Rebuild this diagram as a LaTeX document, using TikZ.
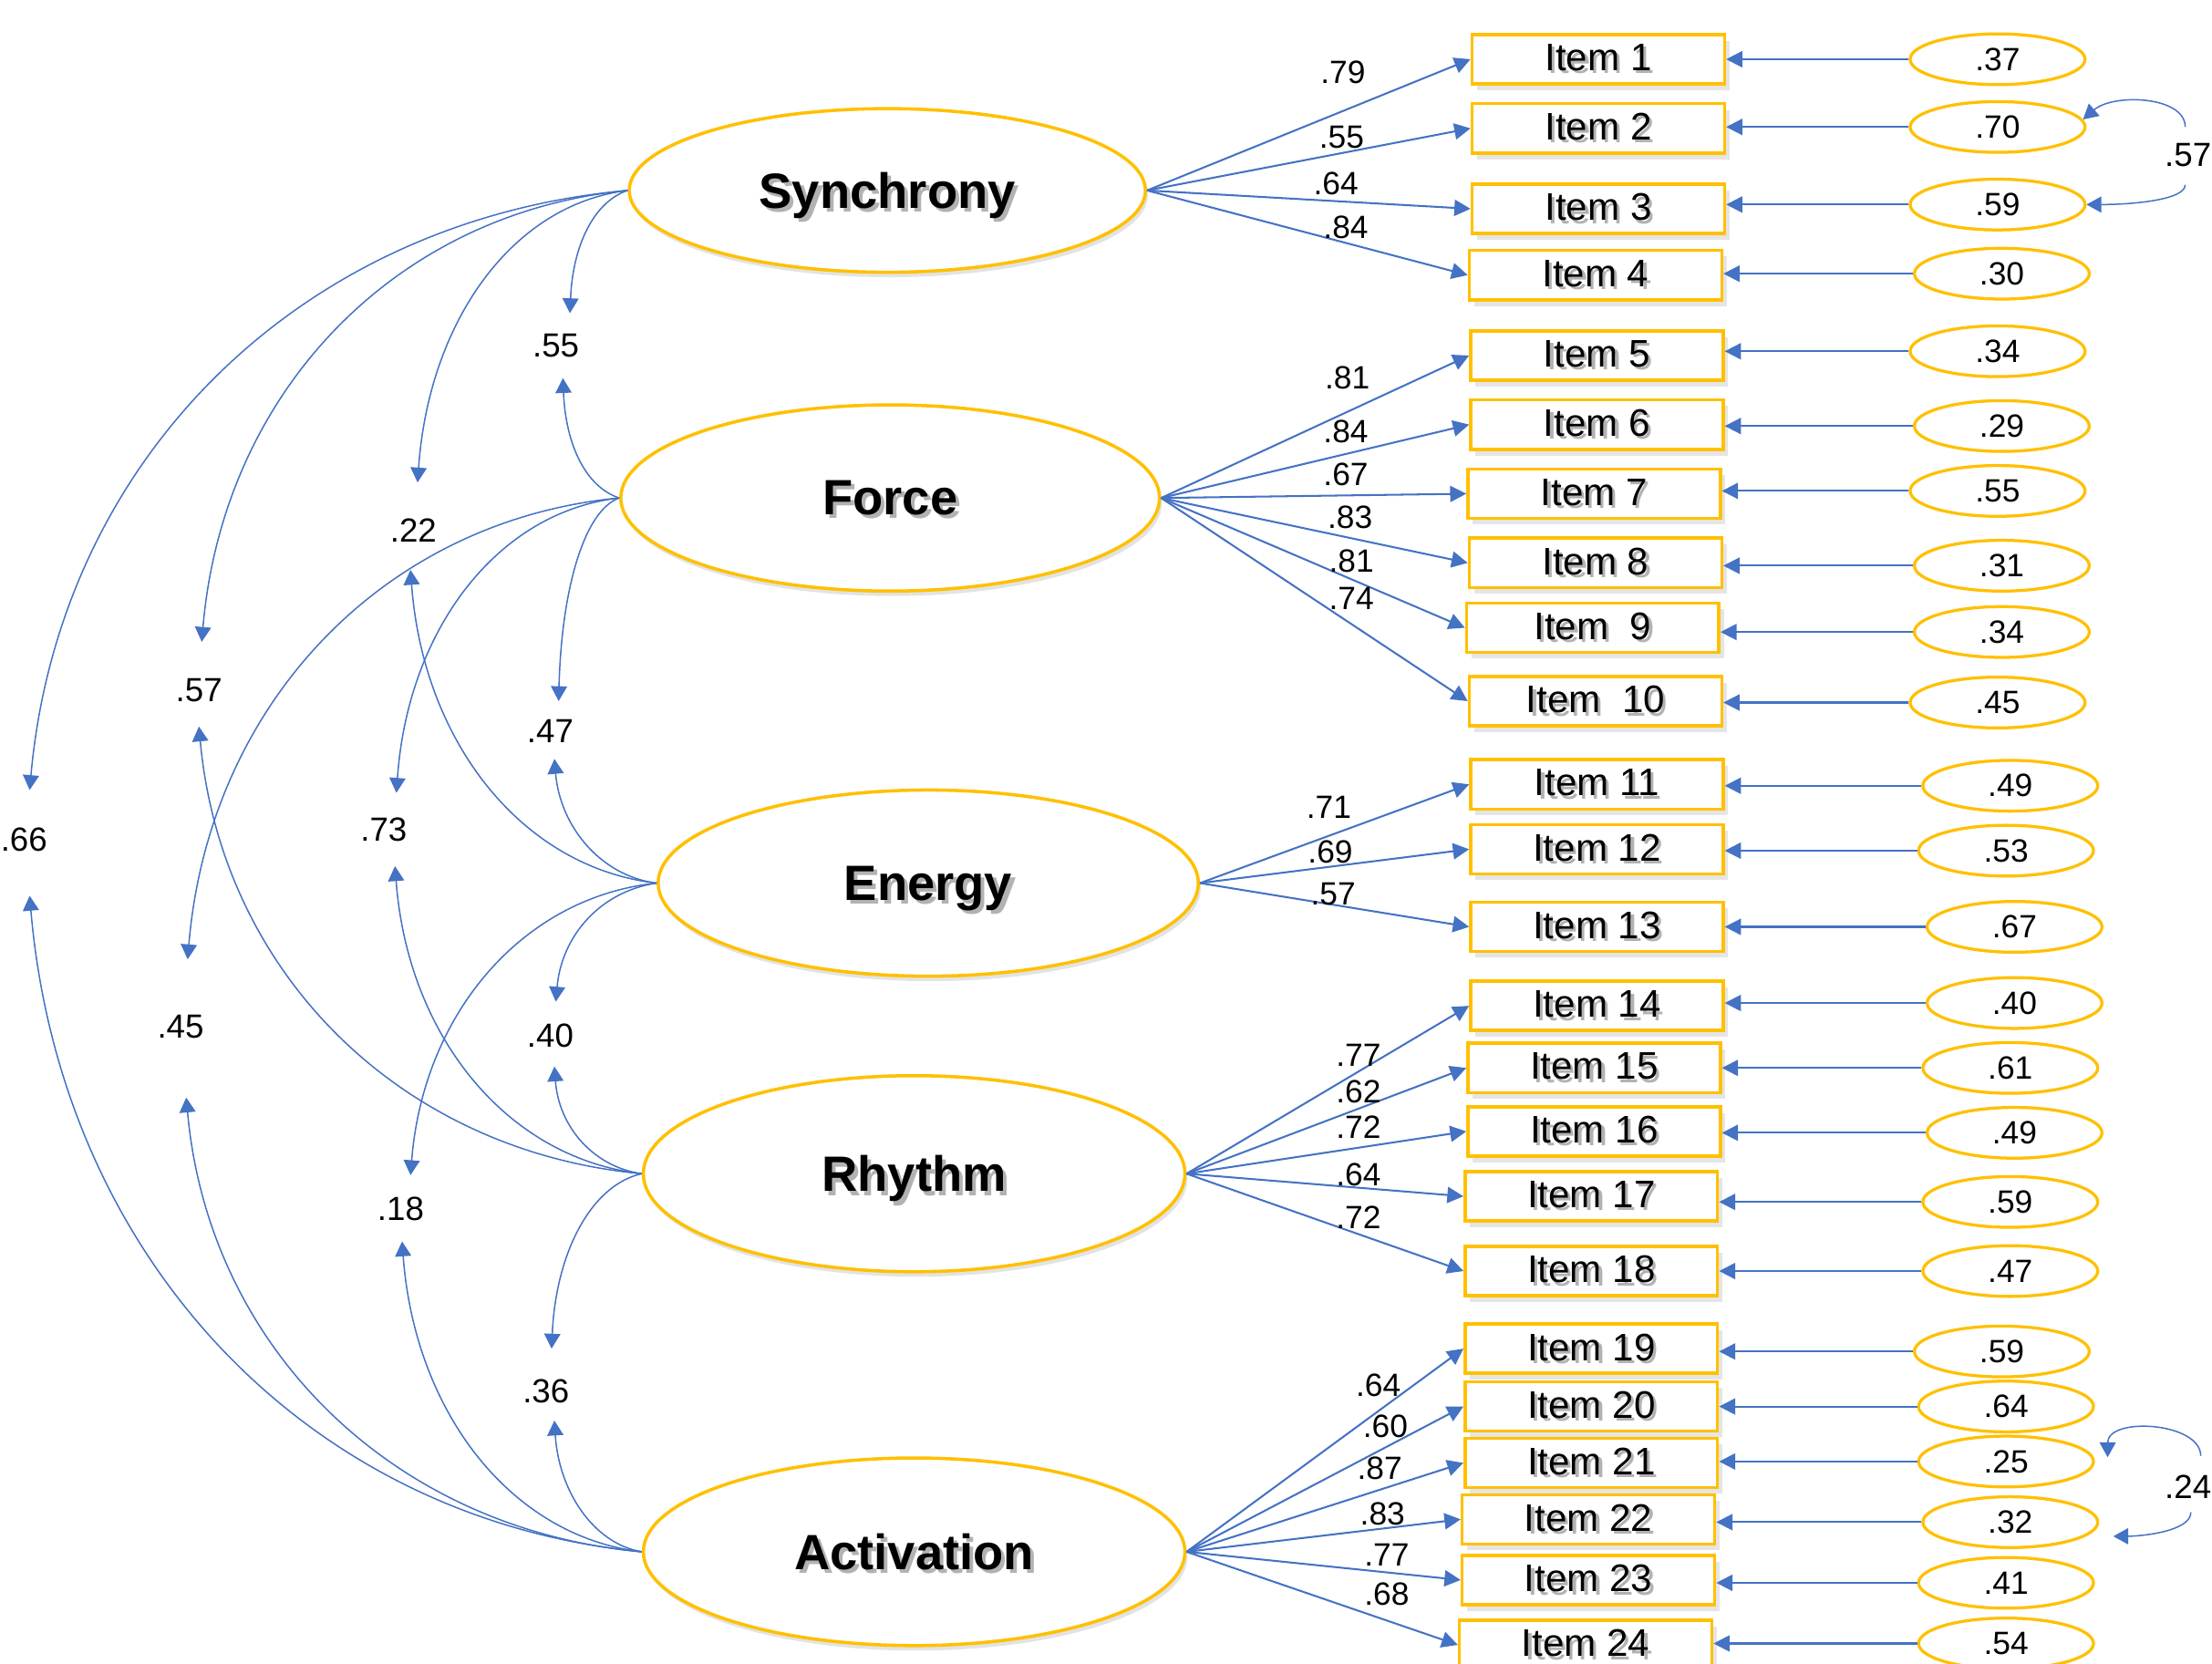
\documentclass[tikz,border=0pt]{standalone}
\usepackage{fontspec}
\setmainfont{Liberation Sans}
\usetikzlibrary{arrows.meta,shapes.geometric,shadows,calc}
\definecolor{sblue}{HTML}{4472C4}
\definecolor{sgold}{HTML}{FFC000}
\newcommand{\shtxt}[2]{\makebox[0pt][l]{\hspace{#2}\raisebox{-#2}{\textcolor{black!30}{#1}}}#1}
\begin{document}
\begin{tikzpicture}[x=0.02cm, y=-0.02cm,
 conn/.style={draw=sblue, line width=0.75pt, -{Triangle[length=6.5pt,width=6.5pt]}},
 corr/.style={draw=sblue, line width=0.55pt, -{Triangle[length=6pt,width=6.5pt]}},
 latent/.style={ellipse, draw=sgold, line width=1.3pt, fill=white, inner sep=0pt,
   text depth=0pt,
   font=\bfseries\fontsize{20}{24}\selectfont,
   drop shadow={shadow xshift=1pt, shadow yshift=-2pt, opacity=0.22}},
 itembox/.style={rectangle, draw=sgold, line width=1.3pt, fill=white,
   minimum width=3.58cm, minimum height=0.70cm, inner sep=0pt,
   font=\fontsize{15.5}{18}\selectfont,
   drop shadow={shadow xshift=2pt, shadow yshift=-2.5pt, opacity=0.2}},
 errell/.style={ellipse, draw=sgold, line width=1.2pt, fill=white,
   minimum width=2.48cm, minimum height=0.72cm, inner sep=0pt,
   font=\fontsize{13}{15}\selectfont},
 loadlab/.style={font=\fontsize{13}{15}\selectfont, inner sep=0pt},
 corrlab/.style={font=\fontsize{13.5}{16}\selectfont, inner sep=0pt},
 rlab/.style={font=\fontsize{13.5}{16}\selectfont, inner sep=0pt}
]
\fill[white] (0,0) rectangle (1568,1179);
\useasboundingbox (0,0) rectangle (1568,1179);

% latent factors
\node[latent, minimum width=7.32cm, minimum height=2.32cm] (sync) at (629,135) {\shtxt{Synchrony}{1.5pt}};
\node[latent, minimum width=7.64cm, minimum height=2.64cm] (force) at (631,353) {\shtxt{Force}{1.5pt}};
\node[latent, minimum width=7.66cm, minimum height=2.64cm] (energy) at (658,626) {\shtxt{Energy}{1.5pt}};
\node[latent, minimum width=7.68cm, minimum height=2.78cm] (rhythm) at (648,832) {\shtxt{Rhythm}{1.5pt}};
\node[latent, minimum width=7.68cm, minimum height=2.66cm] (activ) at (648,1100) {\shtxt{Activation}{1.5pt}};

% items
\node[itembox] (i1) at (1133,42) {\shtxt{Item 1}{1.2pt}};
\node[itembox] (i2) at (1133,91) {\shtxt{Item 2}{1.2pt}};
\node[itembox] (i3) at (1133,148) {\shtxt{Item 3}{1.2pt}};
\node[itembox] (i4) at (1131,195) {\shtxt{Item 4}{1.2pt}};
\node[itembox] (i5) at (1132,252) {\shtxt{Item 5}{1.2pt}};
\node[itembox] (i6) at (1132,301) {\shtxt{Item 6}{1.2pt}};
\node[itembox] (i7) at (1130,350) {\shtxt{Item 7}{1.2pt}};
\node[itembox] (i8) at (1131,399) {\shtxt{Item 8}{1.2pt}};
\node[itembox] (i9) at (1129,445) {\shtxt{Item\ \ 9}{1.2pt}};
\node[itembox] (i10) at (1131,497) {\shtxt{Item\ \ 10}{1.2pt}};
\node[itembox] (i11) at (1132,556) {\shtxt{Item 11}{1.2pt}};
\node[itembox] (i12) at (1132,602) {\shtxt{Item 12}{1.2pt}};
\node[itembox] (i13) at (1132,657) {\shtxt{Item 13}{1.2pt}};
\node[itembox] (i14) at (1132,713) {\shtxt{Item 14}{1.2pt}};
\node[itembox] (i15) at (1130,757) {\shtxt{Item 15}{1.2pt}};
\node[itembox] (i16) at (1130,802) {\shtxt{Item 16}{1.2pt}};
\node[itembox] (i17) at (1128,848) {\shtxt{Item 17}{1.2pt}};
\node[itembox] (i18) at (1128,901) {\shtxt{Item 18}{1.2pt}};
\node[itembox] (i19) at (1128,956) {\shtxt{Item 19}{1.2pt}};
\node[itembox] (i20) at (1128,997) {\shtxt{Item 20}{1.2pt}};
\node[itembox] (i21) at (1128,1037) {\shtxt{Item 21}{1.2pt}};
\node[itembox] (i22) at (1126,1077) {\shtxt{Item 22}{1.2pt}};
\node[itembox] (i23) at (1126,1120) {\shtxt{Item 23}{1.2pt}};
\node[itembox] (i24) at (1124,1166) {\shtxt{Item 24}{1.2pt}};

% error terms
\node[errell] (e1) at (1416,42) {.37};
\node[errell] (e2) at (1416,90) {.70};
\node[errell] (e3) at (1416,145) {.59};
\node[errell] (e4) at (1419,194) {.30};
\node[errell] (e5) at (1416,249) {.34};
\node[errell] (e6) at (1419,302) {.29};
\node[errell] (e7) at (1416,348) {.55};
\node[errell] (e8) at (1419,401) {.31};
\node[errell] (e9) at (1419,448) {.34};
\node[errell] (e10) at (1416,498) {.45};
\node[errell] (e11) at (1425,557) {.49};
\node[errell] (e12) at (1422,603) {.53};
\node[errell] (e13) at (1428,657) {.67};
\node[errell] (e14) at (1428,711) {.40};
\node[errell] (e15) at (1425,757) {.61};
\node[errell] (e16) at (1428,803) {.49};
\node[errell] (e17) at (1425,852) {.59};
\node[errell] (e18) at (1425,901) {.47};
\node[errell] (e19) at (1419,958) {.59};
\node[errell] (e20) at (1422,997) {.64};
\node[errell] (e21) at (1422,1036) {.25};
\node[errell] (e22) at (1425,1079) {.32};
\node[errell] (e23) at (1422,1122) {.41};
\node[errell] (e24) at (1422,1165) {.54};

% error arrows
\foreach \k in {1,...,24}{
  \draw[conn] (e\k.west) -- (e\k.west -| i\k.east);
}

% loadings
\foreach \k in {1,2,3,4}{\draw[conn] (sync.east) -- (i\k.west);}
\foreach \k in {5,...,10}{\draw[conn] (force.east) -- (i\k.west);}
\foreach \k in {11,12,13}{\draw[conn] (energy.east) -- (i\k.west);}
\foreach \k in {14,...,18}{\draw[conn] (rhythm.east) -- (i\k.west);}
\foreach \k in {19,...,24}{\draw[conn] (activ.east) -- (i\k.west);}

% loading labels
\node[loadlab] (l1) at (952,51) {.79};
\node[loadlab] (l2) at (951,97) {.55};
\node[loadlab] (l3) at (947,130) {.64};
\node[loadlab] (l4) at (954,161) {.84};
\node[loadlab] (l5) at (955,268) {.81};
\node[loadlab] (l6) at (954,306) {.84};
\node[loadlab] (l7) at (954,336) {.67};
\node[loadlab] (l8) at (957,367) {.83};
\node[loadlab] (l9) at (958,398) {.81};
\node[loadlab] (l10) at (958,424) {.74};
\node[loadlab] (l11) at (942,572) {.71};
\node[loadlab] (l12) at (943,604) {.69};
\node[loadlab] (l13) at (945,634) {.57};
\node[loadlab] (l14) at (963,748) {.77};
\node[loadlab] (l15) at (963,774) {.62};
\node[loadlab] (l16) at (963,799) {.72};
\node[loadlab] (l17) at (963,833) {.64};
\node[loadlab] (l18) at (963,863) {.72};
\node[loadlab] (l19) at (977,982) {.64};
\node[loadlab] (l20) at (982,1011) {.60};
\node[loadlab] (l21) at (978,1041) {.87};
\node[loadlab] (l22) at (980,1073) {.83};
\node[loadlab] (l23) at (983,1102) {.77};
\node[loadlab] (l24) at (983,1130) {.68};

% factor correlations: arrow tips
\coordinate (t55a) at (404,222); \coordinate (t55b) at (399,268);
\coordinate (t22a) at (296,342); \coordinate (t22b) at (291,404);
\coordinate (t57a) at (143,455); \coordinate (t57b) at (141,515);
\coordinate (t66a) at (21,560);  \coordinate (t66b) at (21,635);
\coordinate (t47a) at (396,497); \coordinate (t47b) at (393,538);
\coordinate (t73a) at (281,562); \coordinate (t73b) at (280,614);
\coordinate (t45a) at (133,680); \coordinate (t45b) at (132,778);
\coordinate (t40a) at (394,710); \coordinate (t40b) at (393,756);
\coordinate (t18a) at (291,833); \coordinate (t18b) at (285,880);
\coordinate (t36a) at (391,956); \coordinate (t36b) at (393,1007);

\draw[corr] (sync.west) .. controls (421,143) and (406,174) .. (t55a);
\draw[corr] (force.west) .. controls (415,345) and (401,315) .. (t55b);
\draw[corr] (sync.west) .. controls (363,145) and (304,228) .. (t22a);
\draw[corr] (energy.west) .. controls (370,615) and (300,526) .. (t22b);
\draw[corr] (sync.west) .. controls (279,151) and (158,279) .. (t57a);
\draw[corr] (rhythm.west) .. controls (283,816) and (157,689) .. (t57b);
\draw[corr] (sync.west) .. controls (212,156) and (42,326) .. (t66a);
\draw[corr] (activ.west) .. controls (217,1077) and (43,891) .. (t66b);
\draw[corr] (force.west) .. controls (414,362) and (398,418) .. (t47a);
\draw[corr] (energy.west) .. controls (426,621) and (397,586) .. (t47b);
\draw[corr] (force.west) .. controls (352,363) and (289,447) .. (t73a);
\draw[corr] (rhythm.west) .. controls (359,821) and (289,734) .. (t73b);
\draw[corr] (force.west) .. controls (271,369) and (148,500) .. (t45a);
\draw[corr] (activ.west) .. controls (278,1084) and (148,955) .. (t45b);
\draw[corr] (energy.west) .. controls (425,632) and (398,664) .. (t40a);
\draw[corr] (rhythm.west) .. controls (420,827) and (396,798) .. (t40b);
\draw[corr] (energy.west) .. controls (370,636) and (300,719) .. (t18a);
\draw[corr] (activ.west) .. controls (362,1089) and (294,1001) .. (t18b);
\draw[corr] (rhythm.west) .. controls (419,840) and (394,888) .. (t36a);
\draw[corr] (activ.west) .. controls (420,1094) and (396,1056) .. (t36b);

\node[corrlab] (c55) at (394,245) {.55};
\node[corrlab] (c22) at (293,376) {.22};
\node[corrlab] (c57) at (141,489) {.57};
\node[corrlab] (c66) at (17,595) {.66};
\node[corrlab] (c47) at (390,518) {.47};
\node[corrlab] (c73) at (272,588) {.73};
\node[corrlab] (c45) at (128,728) {.45};
\node[corrlab] (c40) at (390,734) {.40};
\node[corrlab] (c18) at (284,857) {.18};
\node[corrlab] (c36) at (387,986) {.36};

% correlated errors
\coordinate (q57a) at (1549,90);
\coordinate (q57b) at (1549,131);
\draw[corr] (q57a) .. controls (1549,68) and (1498,66) .. (e2.5);
\draw[corr] (q57b) .. controls (1549,142) and (1510,145) .. (e3.east);
\node[rlab] (r57) at (1551,110) {.57};

\coordinate (q24a) at (1560,1032);
\coordinate (q24b) at (1553,1072);
\draw[corr] (q24a) .. controls (1560,1008) and (1494,1004) .. ($(e21.east)+(9,-3)$);
\draw[corr] (q24b) .. controls (1553,1086) and (1516,1089) .. ($(e22.east)+(10,10)$);
\node[rlab] (r24) at (1551,1054) {.24};
\end{tikzpicture}
\end{document}
